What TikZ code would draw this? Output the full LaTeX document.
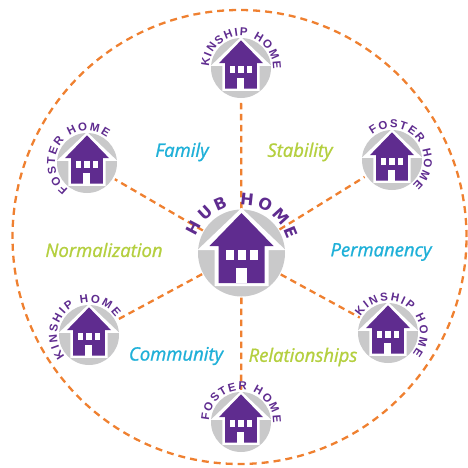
\documentclass[tikz,border=0pt]{standalone}
\usepackage{fontspec}
\setmainfont{Liberation Sans}
\newfontfamily\labelfont[ItalicFeatures={FakeBold=1.2}]{Open Sans}
\newfontfamily\hubfont{DejaVu Sans}
\usetikzlibrary{decorations.text}
\definecolor{hubpurple}{HTML}{5F2C8F}
\definecolor{hubgray}{HTML}{C9C9CA}
\definecolor{huborange}{HTML}{EF8030}
\definecolor{lblblue}{HTML}{1FB0D8}
\definecolor{lblgreen}{HTML}{B4CF3F}
\tikzset{
  disc/.style={circle,fill=hubgray,inner sep=0pt,minimum size=#1},
  link/.style={draw=huborange,line width=2.3pt,dash pattern=on 6.5pt off 4.5pt,shorten <=1pt,shorten >=2pt},
  word/.style={font=\labelfont\itshape\fontsize{18.5}{20}\selectfont},
  bluew/.style={word,text=lblblue},
  greenw/.style={word,text=lblgreen}
}
% house drawn around the disc centre; coordinates are for a disc of radius 43.5
\newcommand{\hhouse}[3]{%
  \begin{scope}[shift={(#1,#2)},scale=#3]
    \fill[white] (0,45) -- (44,3) -- (27,3) -- (27,-33) -- (-27,-33) -- (-27,3) -- (-44,3) -- cycle;
    \fill[hubpurple] (0,40) -- (32,7) -- (23,7) -- (23,-30) -- (-23,-30) -- (-23,7) -- (-32,7) -- cycle;
    \fill[white] (-16,-7) rectangle (-8,3);
    \fill[white] (-4,-7) rectangle (4,3);
    \fill[white] (8,-7) rectangle (16,3);
    \fill[white] (-6,-30) rectangle (5,-15);
  \end{scope}}
\newcommand{\arctext}[7]{% x y radius start end font text
  \path[decorate,decoration={text along path,text align=fit to path,
    text={|\color{hubpurple}#6|#7}}]
    (#1,#2) ++(#4:#3) arc[start angle=#4,end angle=#5,radius=#3];}
\begin{document}
\begin{tikzpicture}[x=1pt,y=1pt]
  \useasboundingbox (0,0) rectangle (468,467);
  \node[circle,draw=huborange,line width=2.3pt,dash pattern=on 7pt off 5pt,minimum size=454pt,inner sep=0pt] (ring) at (239.5,230) {};
  \node[disc=87pt] (hub) at (241.5,214) {};
  \node[disc=60pt] (kt) at (241,399) {};
  \node[disc=60pt] (fr) at (392,307) {};
  \node[disc=60pt] (kr) at (388,134) {};
  \node[disc=60pt] (fb) at (241,45) {};
  \node[disc=60pt] (kl) at (89,132) {};
  \node[disc=60pt] (fl) at (87,304) {};
  \foreach \s in {kt,fr,kr,fb,kl,fl}{\draw[link] (hub) -- (\s);}
  \hhouse{241.5}{214}{1}
  \hhouse{241}{399}{0.69}
  \hhouse{392}{307}{0.69}
  \hhouse{388}{134}{0.69}
  \hhouse{241}{45}{0.69}
  \hhouse{89}{132}{0.69}
  \hhouse{87}{304}{0.69}
  \arctext{241.5}{214}{48}{160}{16}{\hubfont\bfseries\fontsize{16}{16}\selectfont}{HUB HOME}
  \arctext{241}{399}{32}{178}{-2}{\bfseries\fontsize{11.5}{11.5}\selectfont}{KINSHIP HOME}
  \arctext{392}{307}{32}{128}{-50}{\bfseries\fontsize{11.5}{11.5}\selectfont}{FOSTER HOME}
  \arctext{388}{134}{32}{149}{-40}{\bfseries\fontsize{11.5}{11.5}\selectfont}{KINSHIP HOME}
  \arctext{241}{45}{32}{178}{-2}{\bfseries\fontsize{11.5}{11.5}\selectfont}{FOSTER HOME}
  \arctext{89}{132}{32}{221}{34}{\bfseries\fontsize{11.5}{11.5}\selectfont}{KINSHIP HOME}
  \arctext{87}{304}{32}{234}{52}{\bfseries\fontsize{11.5}{11.5}\selectfont}{FOSTER HOME}
  \node[bluew] (family) at (182,315) {Family};
  \node[greenw] (stability) at (300,315) {Stability};
  \node[greenw] (norm) at (104,217) {Normalization};
  \node[bluew] (perm) at (381,215) {Permanency};
  \node[bluew] (comm) at (176,111) {Community};
  \node[greenw] (rel) at (303,110) {Relationships};
\end{tikzpicture}
\end{document}
